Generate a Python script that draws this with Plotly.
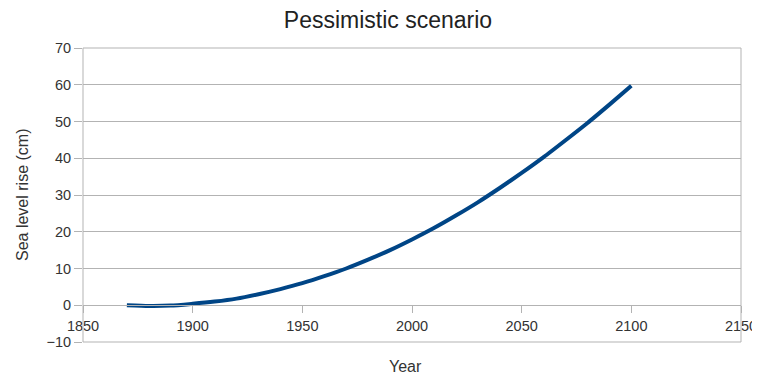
import plotly.graph_objects as go

years = [1870, 1880, 1890, 1900, 1910, 1920, 1930, 1940, 1950, 1960, 1970, 1980,
         1990, 2000, 2010, 2020, 2030, 2040, 2050, 2060, 2070, 2080, 2090, 2100]
sea_level_cm = [0.0, -0.2, -0.1, 0.4, 1.0, 1.8, 3.0, 4.4, 6.0, 7.9, 10.0, 12.4,
                15.0, 17.9, 21.0, 24.4, 28.0, 31.9, 36.0, 40.3, 44.9, 49.6, 54.6, 59.7]

x_ticks = [1850, 1900, 1950, 2000, 2050, 2100, 2150]
y_ticks = [-10, 0, 10, 20, 30, 40, 50, 60, 70]

font = "Liberation Sans, Arial, sans-serif"
grid = "#b3b3b3"
txt = "#333333"

fig = go.Figure()
fig.add_trace(go.Scatter(
    x=years, y=sea_level_cm, mode="lines",
    line=dict(color="#004586", width=4, shape="spline", smoothing=0.6),
    showlegend=False, hoverinfo="x+y",
))

# page has an 8px body margin, so the figure is offset by 8px
fig.update_layout(
    width=770, height=368,
    margin=dict(l=75, r=37, t=40, b=34, autoexpand=False),
    paper_bgcolor="white", plot_bgcolor="white",
    font=dict(family=font, size=14, color=txt),
    title=dict(text="Pessimistic scenario", x=0.4935, xanchor="center",
               yref="container", y=0.99, yanchor="top",
               font=dict(family=font, size=23, color="#222222")),
    xaxis=dict(
        range=[1850, 2150], tickvals=x_ticks, ticktext=[str(v) for v in x_ticks],
        showgrid=False, zeroline=False, automargin=False,
        anchor="free", position=0.125,
        showline=True, linecolor=grid, linewidth=1,
        ticks="outside", ticklen=7, tickcolor=grid,
        ticklabeloverflow="allow",
        tickfont=dict(size=14.5, color=txt),
    ),
    yaxis=dict(
        range=[-10, 70], tickvals=y_ticks, automargin=False,
        showgrid=True, gridcolor=grid, gridwidth=1, zeroline=False,
        showline=False,
        ticks="outside", ticklen=8, tickcolor=grid,
        tickfont=dict(size=14.5, color=txt),
    ),
    shapes=[dict(type="rect", xref="paper", yref="paper", x0=0, x1=1, y0=0, y1=1,
                 line=dict(color=grid, width=1), fillcolor="rgba(0,0,0,0)",
                 layer="above")],
    annotations=[
        dict(text="Year", xref="paper", yref="paper", x=0.49, y=0,
             yshift=-24, xanchor="center", yanchor="middle", showarrow=False,
             font=dict(size=16, color=txt)),
        dict(text="Sea level rise (cm)", xref="paper", yref="paper", x=0, y=0.5,
             xshift=-61, xanchor="center", yanchor="middle", textangle=-90,
             showarrow=False, font=dict(size=16, color=txt)),
    ],
)

fig.write_html("out.html")
